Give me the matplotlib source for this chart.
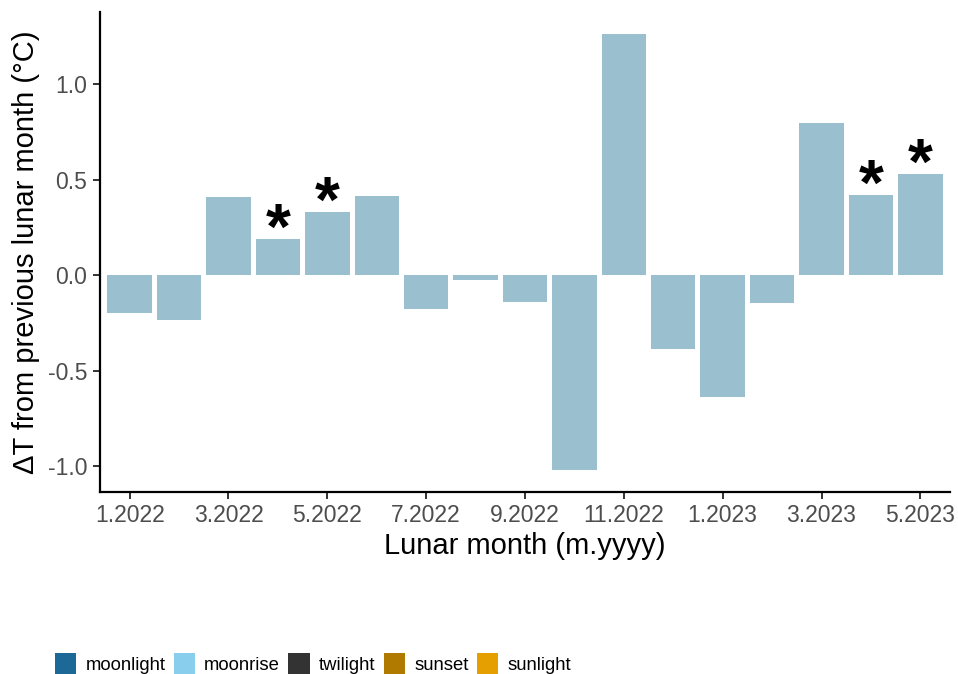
import matplotlib.pyplot as plt
from matplotlib.patches import Patch

plt.rcParams['font.family'] = ['Liberation Sans', 'DejaVu Sans']

# Monthly change in temperature from the previous lunar month
months = ['1.2022', '2.2022', '3.2022', '4.2022', '5.2022', '6.2022',
          '7.2022', '8.2022', '9.2022', '10.2022', '11.2022', '12.2022',
          '1.2023', '2.2023', '3.2023', '4.2023', '5.2023']
delta_t = [-0.20, -0.236, 0.408, 0.188, 0.33, 0.414,
           -0.178, -0.026, -0.141, -1.02, 1.267, -0.387,
           -0.639, -0.147, 0.80, 0.419, 0.529]
significant = ['4.2022', '5.2022', '4.2023', '5.2023']

legend_labels = ['moonlight', 'moonrise', 'twilight', 'sunset', 'sunlight']
legend_colors = ['#1C6896', '#8ACEEE', '#333333', '#B07A00', '#E69F00']

fig = plt.figure(figsize=(9.58, 6.74), dpi=100)
ax = fig.add_axes([100 / 958, 1 - 492 / 674, 850 / 958, 480 / 674])

x = list(range(len(months)))
ax.bar(x, delta_t, width=0.9, color='#9ABFCE')

# stars over the significant months
for m in significant:
    i = months.index(m)
    ax.annotate('*', xy=(i, delta_t[i]), xytext=(0, -7), textcoords='offset points',
                ha='center', va='baseline', fontsize=46, fontweight='bold', color='black')

ax.set_xlim(-0.6, len(months) - 0.4)
ax.set_ylim(-1.136, 1.38)
ax.set_xticks(x[::2])
ax.set_xticklabels(months[::2])
ax.set_yticks([-1.0, -0.5, 0.0, 0.5, 1.0])
ax.set_yticklabels(['-1.0', '-0.5', '0.0', '0.5', '1.0'])

for side in ['top', 'right']:
    ax.spines[side].set_visible(False)
for side in ['left', 'bottom']:
    ax.spines[side].set_linewidth(1.6)
    ax.spines[side].set_color('black')
ax.tick_params(axis='both', length=5, width=1.4, color='#333333',
               labelsize=16.5, labelcolor='#4D4D4D', pad=4)

ax.set_xlabel('Lunar month (m.yyyy)', fontsize=21, color='black', labelpad=3)
ax.set_ylabel('ΔT from previous lunar month (°C)', fontsize=21, color='black', labelpad=6)

handles = [Patch(facecolor=c, edgecolor='none') for c in legend_colors]
fig.legend(handles, legend_labels, loc='upper left', bbox_to_anchor=(55 / 958, 1 - 653 / 674),
           ncol=5, frameon=False, fontsize=13.3, borderpad=0, borderaxespad=0,
           handlelength=1.15, handleheight=1.4, handletextpad=0.5, columnspacing=0.45)

fig.savefig('out.png', dpi=100)
